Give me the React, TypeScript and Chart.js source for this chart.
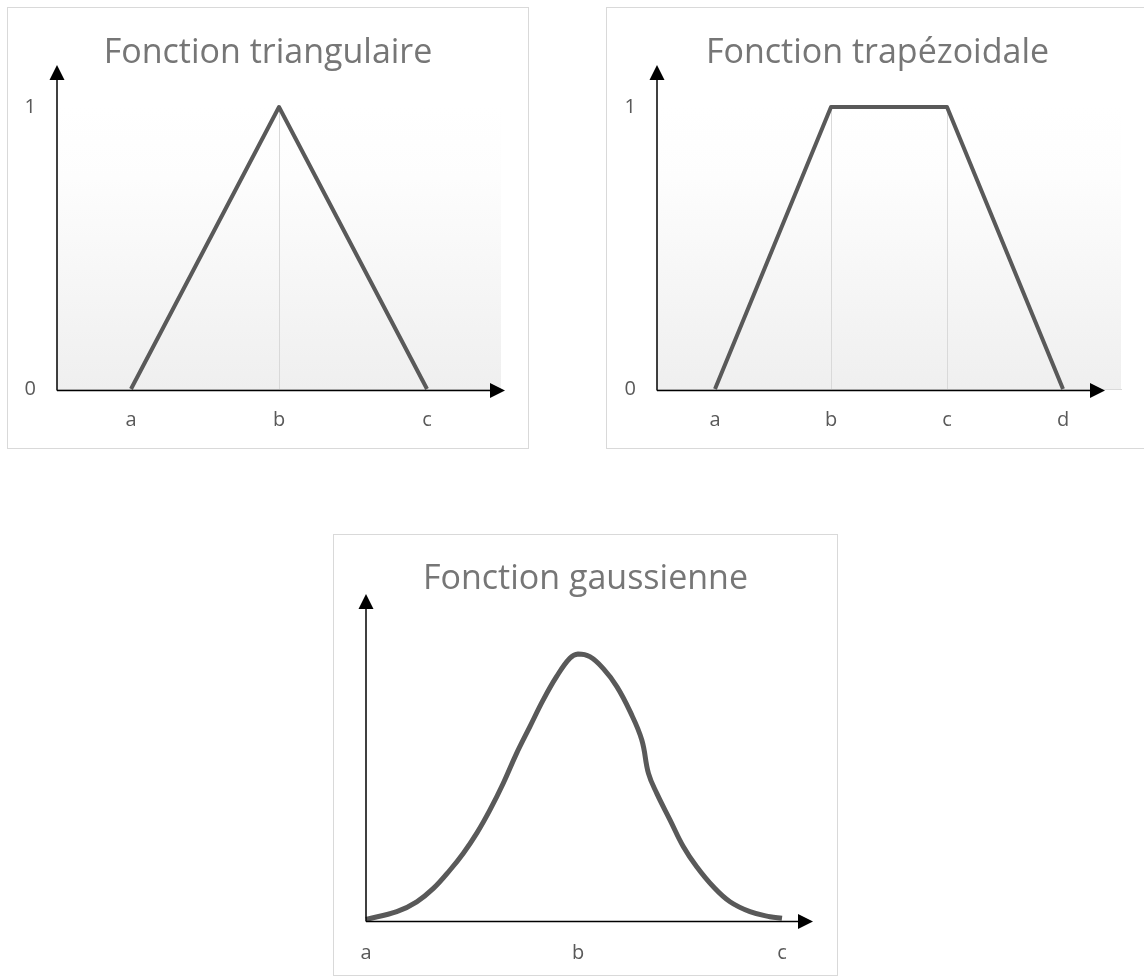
import React, { useEffect, useRef } from "react";
import { Chart, registerables } from "chart.js";

Chart.register(...registerables);

// ---------- data ----------
const triCategories = ["a", "b", "c"];
const triValues = [0, 1, 0];

const trapCategories = ["a", "b", "c", "d"];
const trapValues = [0, 1, 1, 0];

const yTickLabels = ["0", "1"];

const gaussX = [
  0, 0.74, 1.22, 1.62, 2.02, 2.34, 2.66, 2.98, 3.3, 3.62, 3.94, 4.26, 4.58, 4.9, 5.1,
  5.38, 5.7, 6.03, 6.35, 6.63, 6.79, 6.99, 7.31, 7.63, 7.95, 8.35, 8.75, 9.23, 9.71, 10,
];
const gaussY = [
  0.006, 0.035, 0.072, 0.122, 0.191, 0.254, 0.328, 0.416, 0.516, 0.628, 0.728, 0.828,
  0.915, 0.984, 1.0, 0.99, 0.946, 0.878, 0.784, 0.678, 0.553, 0.478, 0.378, 0.278, 0.203,
  0.128, 0.072, 0.035, 0.016, 0.01,
];
const gaussTickValues = [0, 5.1, 10];
const gaussTickLabels = ["a", "b", "c"];

const titles = ["Fonction triangulaire", "Fonction trapézoidale", "Fonction gaussienne"];

// ---------- styles ----------
const FONT = "'Open Sans', 'Noto Sans', sans-serif";
const LINE_COLOR = "#595959";
const TITLE_COLOR = "#767676";
const TICK_COLOR = "#595959";

type Deco = {
  gradient: boolean;
  dropLines: boolean;
  arrowTopY: number;
  arrowRightX: number;
  xLineOffset: number;
};

const decoPlugin = {
  id: "deco",
  beforeDraw(chart: any, _args: any, opts: Deco) {
    const { ctx, chartArea } = chart;
    if (opts.gradient) {
      const g = ctx.createLinearGradient(0, chartArea.top, 0, chartArea.bottom);
      g.addColorStop(0, "#ffffff");
      g.addColorStop(0.25, "#fdfdfd");
      g.addColorStop(1, "#efefef");
      ctx.save();
      ctx.fillStyle = g;
      ctx.fillRect(chartArea.left, chartArea.top, chartArea.right - chartArea.left, chartArea.bottom - chartArea.top);
      ctx.restore();
    }
  },
  beforeDatasetsDraw(chart: any, _args: any, opts: Deco) {
    if (!opts.dropLines) return;
    const { ctx, chartArea } = chart;
    const meta = chart.getDatasetMeta(0);
    ctx.save();
    ctx.strokeStyle = "#d9d9d9";
    ctx.lineWidth = 1;
    meta.data.forEach((pt: any) => {
      if (chartArea.bottom - pt.y < 2) return;
      const x = Math.round(pt.x) + 0.5;
      ctx.beginPath();
      ctx.moveTo(x, pt.y);
      ctx.lineTo(x, chartArea.bottom);
      ctx.stroke();
    });
    ctx.restore();
  },
  afterDraw(chart: any, _args: any, opts: Deco) {
    const { ctx, chartArea } = chart;
    const left = chartArea.left;
    const by = chartArea.bottom + opts.xLineOffset;
    ctx.save();
    ctx.strokeStyle = "#000";
    ctx.fillStyle = "#000";
    ctx.lineWidth = 1.5;
    ctx.beginPath();
    ctx.moveTo(left, by);
    ctx.lineTo(left, opts.arrowTopY + 10);
    ctx.stroke();
    ctx.beginPath();
    ctx.moveTo(left, opts.arrowTopY);
    ctx.lineTo(left - 7.5, opts.arrowTopY + 15);
    ctx.lineTo(left + 7.5, opts.arrowTopY + 15);
    ctx.closePath();
    ctx.fill();
    ctx.beginPath();
    ctx.moveTo(left, by);
    ctx.lineTo(opts.arrowRightX - 10, by);
    ctx.stroke();
    ctx.beginPath();
    ctx.moveTo(opts.arrowRightX, by);
    ctx.lineTo(opts.arrowRightX - 15, by - 7.5);
    ctx.lineTo(opts.arrowRightX - 15, by + 7.5);
    ctx.closePath();
    ctx.fill();
    ctx.restore();
  },
};

function titleOpts(text: string, top: number, bottom: number) {
  return {
    display: true,
    text,
    color: TITLE_COLOR,
    font: { family: FONT, size: 34, weight: "normal" as const, lineHeight: 1.2 },
    padding: { top, bottom },
  };
}

const tickFont = { family: FONT, size: 20, weight: "normal" as const, lineHeight: 1.2 };

// invisible right-hand axis used only to reserve space on the right of the plot
function spacerAxis(width: number) {
  return {
    type: "linear",
    position: "right",
    display: true,
    grid: { display: false, drawTicks: false },
    border: { display: false },
    ticks: { display: false },
    afterFit: (s: any) => {
      s.width = width;
    },
  };
}

function categoryConfig(
  labels: string[],
  values: number[],
  title: string,
  yWidth: number,
  padRight: number,
  arrowRightX: number
): any {
  return {
    type: "line",
    data: {
      labels,
      datasets: [
        {
          data: values,
          borderColor: LINE_COLOR,
          borderWidth: 4,
          pointRadius: 0,
          tension: 0,
          borderJoinStyle: "round",
          borderCapStyle: "butt",
          clip: false,
        },
      ],
    },
    options: {
      animation: false,
      responsive: false,
      maintainAspectRatio: false,
      events: [],
      layout: { padding: 0 },
      plugins: {
        legend: { display: false },
        tooltip: { enabled: false },
        title: titleOpts(title, 24.9, 33.3),
        deco: { gradient: true, dropLines: true, arrowTopY: 57, arrowRightX, xLineOffset: 1.5 },
      },
      scales: {
        x: {
          type: "category",
          offset: true,
          grid: { display: false, drawTicks: false },
          border: { display: true, color: "#d9d9d9", width: 1 },
          ticks: { color: TICK_COLOR, font: tickFont, padding: 19, maxRotation: 0, autoSkip: false },
          afterFit: (s: any) => {
            s.height = 59;
          },
        },
        y: {
          type: "linear",
          min: 0,
          max: 1,
          grid: { display: false, drawTicks: false },
          border: { display: false },
          ticks: {
            stepSize: 1,
            color: TICK_COLOR,
            font: tickFont,
            padding: 21,
            callback: (_v: any, i: number) => yTickLabels[i],
          },
          afterFit: (s: any) => {
            s.width = yWidth;
          },
        },
        yR: spacerAxis(padRight),
      },
    },
    plugins: [decoPlugin],
  };
}

function gaussConfig(): any {
  return {
    type: "line",
    data: {
      datasets: [
        {
          data: gaussX.map((x, i) => ({ x, y: gaussY[i] })),
          borderColor: LINE_COLOR,
          borderWidth: 5,
          pointRadius: 0,
          tension: 0.4,
          borderJoinStyle: "round",
          borderCapStyle: "butt",
          clip: false,
        },
      ],
    },
    options: {
      animation: false,
      responsive: false,
      maintainAspectRatio: false,
      events: [],
      layout: { padding: 0 },
      plugins: {
        legend: { display: false },
        tooltip: { enabled: false },
        title: titleOpts(titles[2], 23.9, 54.3),
        deco: { gradient: false, dropLines: false, arrowTopY: 59, arrowRightX: 479, xLineOffset: 0.5 },
      },
      scales: {
        x: {
          type: "linear",
          min: 0,
          max: 10,
          grid: { display: false, drawTicks: false },
          border: { display: false },
          afterBuildTicks: (s: any) => {
            s.ticks = gaussTickValues.map((v) => ({ value: v }));
          },
          ticks: {
            color: TICK_COLOR,
            font: tickFont,
            padding: 20,
            maxRotation: 0,
            autoSkip: false,
            callback: (_v: any, i: number) => gaussTickLabels[i],
          },
          afterFit: (s: any) => {
            s.height = 54;
          },
        },
        y: {
          type: "linear",
          min: 0,
          max: 1,
          display: true,
          grid: { display: false, drawTicks: false },
          border: { display: false },
          ticks: { display: false },
          afterFit: (s: any) => {
            s.width = 32;
          },
        },
        yR: spacerAxis(55),
      },
    },
    plugins: [decoPlugin],
  };
}

type PanelProps = { left: number; top: number; width: number; height: number; make: () => any };

function Panel({ left, top, width, height, make }: PanelProps) {
  const ref = useRef<HTMLCanvasElement | null>(null);
  useEffect(() => {
    if (!ref.current) return;
    const chart = new Chart(ref.current, make());
    return () => chart.destroy();
  }, []);
  return (
    <div
      style={{
        position: "absolute",
        left,
        top,
        width,
        height,
        border: "1px solid #d9d9d9",
        boxSizing: "border-box",
        background: "#fff",
      }}
    >
      <canvas ref={ref} width={width - 2} height={height - 2} style={{ display: "block", width: width - 2, height: height - 2 }} />
    </div>
  );
}

export default function App() {
  useEffect(() => {
    document.body.style.margin = "0";
    document.body.style.background = "#fff";
  }, []);
  return (
    <div style={{ position: "relative", width: 1144, height: 976, overflow: "hidden", background: "#fff" }}>
      <Panel
        left={7}
        top={7}
        width={522}
        height={442}
        make={() => categoryConfig(triCategories, triValues, titles[0], 49, 27, 497)}
      />
      <Panel
        left={606}
        top={7}
        width={543}
        height={442}
        make={() => categoryConfig(trapCategories, trapValues, titles[1], 50, 27, 498)}
      />
      <Panel left={333} top={534} width={505} height={442} make={gaussConfig} />
    </div>
  );
}
